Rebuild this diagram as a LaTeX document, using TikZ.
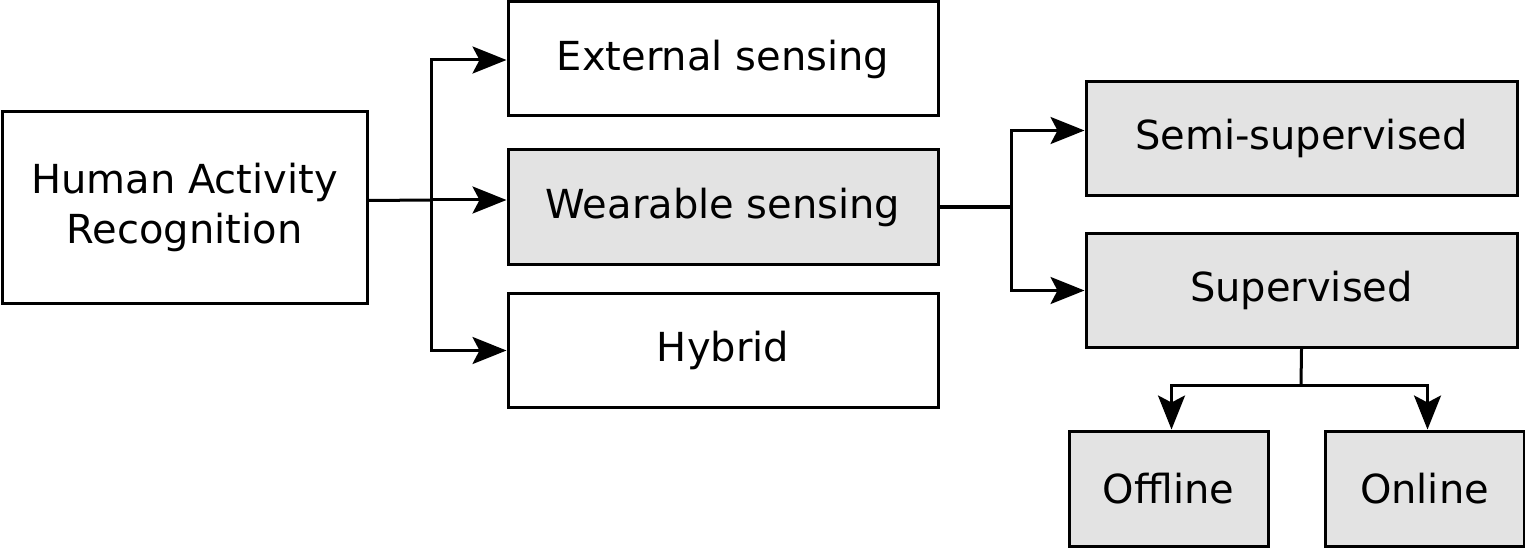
\documentclass[tikz,border=0pt]{standalone}
\usepackage{fontspec}
\setmainfont{DejaVu Sans}
\usetikzlibrary{arrows.meta,positioning}

\begin{document}
\begin{tikzpicture}[x=1pt, y=-1pt, line width=3pt,
  >={Stealth[length=34pt, width=27pt, inset=7pt]},
  font=\fontsize{40}{50}\selectfont,
  box/.style={draw, align=center, inner sep=0pt, fill=white},
  wide/.style={box, minimum width=430pt, minimum height=114pt},
  grey/.style={fill=black!11},
  small/.style={box, grey, minimum width=199pt, minimum height=115pt}]
\useasboundingbox (0,0) rectangle (1525,548);
% ---------------- root and first level
\node[box, minimum width=365pt, minimum height=191pt] (har) at (184.5,207.5) {Human Activity\\ Recognition};
\node[wide] (ext) at (723,59) {External sensing};
\node[wide, grey] (wear) at (723,207) {Wearable sensing};
\node[wide] (hyb) at (723,350.5) {Hybrid};
% ---------------- learning branch
\node[wide, grey, minimum width=431pt] (semi) at (1301.5,138.5) {Semi-supervised};
\node[wide, grey, minimum width=431pt] (sup) at (1301.5,290.5) {Supervised};
\node[small] (off) at (1168.5,488.5) {Offline};
\node[small] (on) at (1424.5,488.5) {Online};
% ---------------- connectors
\draw ([yshift=7pt]har.east) -- (431,200) coordinate (b1);
\draw[->] (b1) |- ([yshift=-1pt]ext.west);
\draw[->] (b1) -- ([yshift=7pt]wear.west);
\draw[->] (b1) |- (hyb.west);
\draw (wear.east) -- (1011,207) coordinate (b2);
\draw[->] (b2) |- ([yshift=8pt]semi.west);
\draw[->] (b2) |- (sup.west);
\draw (sup.south) -- (1301,385) coordinate (b3);
\draw[->] (b3) -| ([xshift=3pt]off.north);
\draw[->] (b3) -| ([xshift=3pt]on.north);
\end{tikzpicture}
\end{document}
